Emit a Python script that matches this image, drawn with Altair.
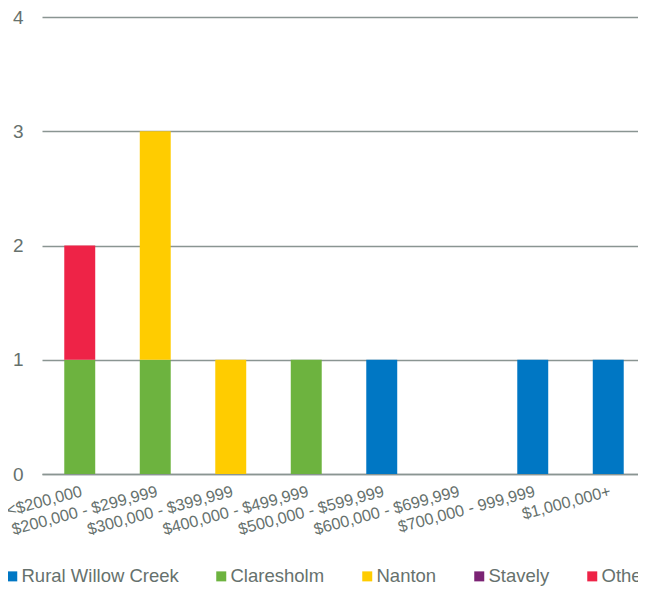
import altair as alt
import pandas as pd

categories = ["<$200,000", "$200,000 - $299,999", "$300,000 - $399,999", "$400,000 - $499,999",
              "$500,000 - $599,999", "$600,000 - $699,999", "$700,000 - 999,999", "$1,000,000+"]
series = ["Rural Willow Creek", "Claresholm", "Nanton", "Stavely", "Other"]
colors = ["#0077C4", "#6DB33F", "#FFCC00", "#7B2374", "#EE2347"]
rural = [0, 0, 0, 0, 1, 0, 1, 1]
claresholm = [1, 1, 0, 1, 0, 0, 0, 0]
nanton = [0, 2, 1, 0, 0, 0, 0, 0]
stavely = [0, 0, 0, 0, 0, 0, 0, 0]
other = [1, 0, 0, 0, 0, 0, 0, 0]
y_ticks = [0, 1, 2, 3, 4]

values = [rural, claresholm, nanton, stavely, other]
rows = []
for si, (s, vals) in enumerate(zip(series, values)):
    for c, v in zip(categories, vals):
        if v:
            rows.append({"category": c, "series": s, "value": v, "ord": si})
df = pd.DataFrame(rows)

TEXT = "#66716D"
GRID = "#8A9592"
FONT = "Liberation Sans"

chart = alt.Chart(df).mark_bar().encode(
    x=alt.X("category:N", sort=categories,
            scale=alt.Scale(domain=categories, paddingInner=0.59, paddingOuter=0.295,
                            range=[0, 604]),
            axis=alt.Axis(title=None, labelAngle=-15, labelAlign="right", labelBaseline="top",
                          labelFontSize=16.3, labelColor=TEXT, labelFont=FONT, labelPadding=9,
                          ticks=False, domainColor=GRID, domainWidth=1.5, labelLimit=300)),
    y=alt.Y("value:Q", stack="zero",
            scale=alt.Scale(domain=[0, 4], nice=False),
            axis=alt.Axis(title=None, values=y_ticks, format="d", labelFontSize=19,
                          labelColor=TEXT, labelFont=FONT, labelPadding=19, ticks=False,
                          domain=False, gridColor=GRID, gridWidth=1.3)),
    color=alt.Color("series:N",
                    scale=alt.Scale(domain=series, range=colors),
                    legend=alt.Legend(title=None, orient="none", direction="horizontal",
                                      legendX=-39, legendY=550, symbolType="square",
                                      symbolSize=100, symbolStrokeWidth=0, labelFontSize=18.5,
                                      labelColor=TEXT, labelFont=FONT, columnPadding=33,
                                      labelLimit=300, labelOffset=0, padding=0)),
    order=alt.Order("ord:Q", sort="ascending"),
).properties(
    width=596, height=457,
    autosize=alt.AutoSizeParams(type="none"),
    padding={"left": 34, "top": 9, "right": 0, "bottom": 116},
).configure_view(stroke=None).configure_axis(grid=True).configure_axisX(grid=False)

chart.save("out.html", embed_options={"renderer": "svg", "actions": False})
